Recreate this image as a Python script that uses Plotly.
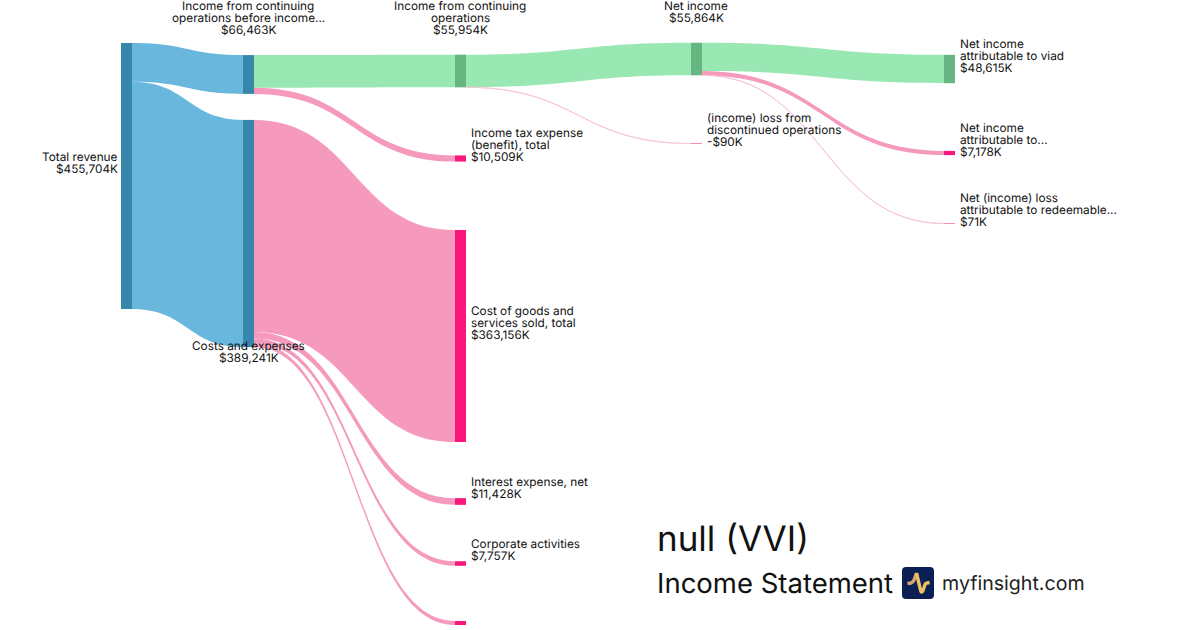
import plotly.graph_objects as go

# ---- data (values in $K) ----
node_names = ["Total revenue", "Income from continuing operations before income...", "Costs and expenses",
              "Income from continuing operations", "Income tax expense (benefit), total",
              "Cost of goods and services sold, total", "Interest expense, net", "Corporate activities", "",
              "Net income", "(income) loss from discontinued operations",
              "Net income attributable to viad", "Net income attributable to...",
              "Net (income) loss attributable to redeemable..."]
link_source = [0, 0, 1, 1, 2, 2, 2, 2, 3, 3, 9, 9, 9]
link_target = [1, 2, 3, 4, 5, 6, 7, 8, 9, 10, 11, 12, 13]
link_value = [66463, 389241, 55954, 10509, 363156, 11428, 7757, 6900, 55864, 90, 48615, 7178, 71]
node_kind = ["blue", "blue", "blue", "green", "pink", "pink", "pink", "pink", "pink", "green", "pink", "green", "pink", "pink"]
link_kind = ["blue", "blue", "green", "pink", "pink", "pink", "pink", "pink", "green", "faint", "green", "pink", "faint"]
label_lines = [
    ["Total revenue", "$455,704K"],
    ["Income from continuing", "operations before income...", "$66,463K"],
    ["Costs and expenses", "$389,241K"],
    ["Income from continuing", "operations", "$55,954K"],
    ["Income tax expense", "(benefit), total", "$10,509K"],
    ["Cost of goods and", "services sold, total", "$363,156K"],
    ["Interest expense, net", "$11,428K"],
    ["Corporate activities", "$7,757K"],
    [],
    ["Net income", "$55,864K"],
    ["(income) loss from", "discontinued operations", "-$90K"],
    ["Net income", "attributable to viad", "$48,615K"],
    ["Net income", "attributable to...", "$7,178K"],
    ["Net (income) loss", "attributable to redeemable...", "$71K"],
]
title_text = "null (VVI)"
subtitle_text = "Income Statement"
brand_text = "myfinsight.com"

# ---- layout (pixels on the 1200x630 page) ----
W, H = 1200, 630
node_cx = [126.5, 248.5, 248.5, 460.5, 460.5, 460.5, 460.5, 460.5, 460.5, 696.5, 696.5, 949.5, 949.5, 949.5]
node_cy = [176, 74.5, 233.5, 71, 158.5, 336, 501.5, 563.5, 623, 59, 143.5, 69, 153, 223.5]
# label anchor: x, first-line y, alignment
label_pos = [
    (119, 157, "right"), (248, 6, "center"), (248.5, 346, "center"), (460, 6, "center"),
    (470, 133, "left"), (470, 311, "left"), (470, 482, "left"), (470, 544, "left"), (470, 0, "left"),
    (696, 6, "center"), (706, 118, "left"), (959, 44, "left"), (959, 128, "left"), (959, 198, "left"),
]
LINE = 12
FONT = "Inter, Noto Sans, sans-serif"
node_color = {"blue": "#3786ab", "green": "#65b680", "pink": "#f8187b"}
link_color = {"blue": "#69b7dd", "green": "#99e8b3", "pink": "#f59abd", "faint": "#f9c6da"}

fig = go.Figure(go.Sankey(
    arrangement="fixed",
    domain=dict(x=[0, 1], y=[0, 1]),
    textfont=dict(size=1, color="rgba(0,0,0,0)"),
    hoverinfo="skip",
    node=dict(
        label=[""] * len(node_names), customdata=node_names, align="left",
        x=[c / W for c in node_cx], y=[c / H for c in node_cy],
        thickness=11, pad=72.8,
        color=[node_color[k] for k in node_kind],
        line=dict(width=0),
    ),
    link=dict(
        source=link_source, target=link_target, value=link_value,
        color=[link_color[k] for k in link_kind],
    ),
))

ann = []
for lines, (x, y, al) in zip(label_lines, label_pos):
    for i, t in enumerate(lines):
        ann.append(dict(text=t, x=x / W, y=1 - (y + i * LINE) / H, xref="paper", yref="paper",
                        xanchor=al, yanchor="middle", showarrow=False,
                        font=dict(family=FONT, size=11.8, color="#111111"),
                        align=al, borderpad=0))
ann.append(dict(text=title_text, x=656 / W, y=1 - 538 / H, xref="paper", yref="paper", xanchor="left",
                yanchor="middle", showarrow=False, borderpad=0, font=dict(family=FONT, size=35, color="#111111")))
ann.append(dict(text=subtitle_text, x=656 / W, y=1 - 583 / H, xref="paper", yref="paper", xanchor="left",
                yanchor="middle", showarrow=False, borderpad=0, font=dict(family=FONT, size=27.5, color="#111111")))
ann.append(dict(text=brand_text, x=941 / W, y=1 - 583 / H, xref="paper", yref="paper", xanchor="left",
                yanchor="middle", showarrow=False, borderpad=0, font=dict(family=FONT, size=19.6, color="#222222")))

def px(x, y):
    return f"{x / W:.5f},{1 - y / H:.5f}"

logo_box = ("M" + px(906, 567) + " L" + px(930, 567) + " Q" + px(934, 567) + " " + px(934, 571) +
            " L" + px(934, 595) + " Q" + px(934, 599) + " " + px(930, 599) + " L" + px(906, 599) +
            " Q" + px(902, 599) + " " + px(902, 595) + " L" + px(902, 571) + " Q" + px(902, 567) + " " + px(906, 567) + " Z")
pulse1 = "M" + px(907.5, 583.5) + " L" + px(911, 583) + " Q" + px(913, 582.5) + " " + px(914, 580) + " L" + px(916.5, 573)
pulse2 = "M" + px(916.5, 573) + " L" + px(920.5, 590) + " Q" + px(921.5, 594) + " " + px(923, 590.5) + " L" + px(925, 584.5) + " Q" + px(925.5, 583) + " " + px(927, 583) + " L" + px(929.5, 582.5)
shapes = [
    dict(type="path", xref="paper", yref="paper", path=logo_box, fillcolor="#0b1f55", line=dict(width=0)),
    dict(type="path", xref="paper", yref="paper", path=pulse1, line=dict(color="#d4a76e", width=3.4)),
    dict(type="path", xref="paper", yref="paper", path=pulse2, line=dict(color="#efc163", width=3.4)),
]

fig.update_layout(width=W, height=H, margin=dict(l=0, r=0, t=0, b=0), paper_bgcolor="white",
                  showlegend=False, annotations=ann, shapes=shapes)
fig.write_html("out.html", config={"displayModeBar": False},
               post_script="document.body.style.margin='0';document.body.style.overflow='hidden';"
                           "var s=document.createElement('style');s.textContent='svg text{text-rendering:geometricPrecision}';"
                           "document.head.appendChild(s);")
